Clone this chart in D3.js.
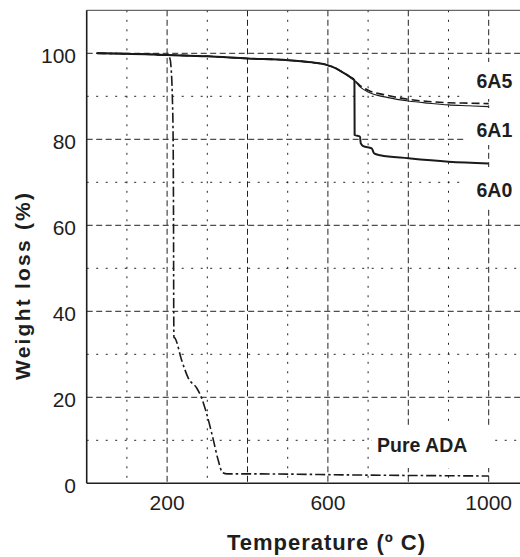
<!DOCTYPE html>
<html>
<head>
<meta charset="utf-8">
<script src="https://cdn.jsdelivr.net/npm/d3@7"></script>
<style>
  body { margin: 0; background: #fff; }
  text { font-family: "Liberation Sans", Arial, Helvetica, sans-serif; fill: #1e1e1e; }
</style>
</head>
<body>
<svg id="chart" width="520" height="557"></svg>
<script>
// the data
const temp6A5 = [25, 100, 200, 300, 400, 500, 560, 597, 620, 638, 655, 667, 680, 700, 750, 800, 850, 900, 950, 1000];
const wt6A5   = [100, 99.9, 99.6, 99.3, 98.8, 98.4, 97.9, 97.3, 96.5, 95.5, 94.5, 93.6, 92.5, 91.4, 90.2, 89.3, 88.8, 88.5, 88.4, 88.3];

const temp6A1 = [25, 100, 200, 300, 400, 500, 560, 597, 620, 638, 655, 667, 680, 700, 750, 800, 850, 900, 950, 1000];
const wt6A1   = [100, 99.9, 99.6, 99.3, 98.8, 98.4, 97.9, 97.3, 96.5, 95.5, 94.5, 93.6, 92.2, 91.0, 89.7, 88.9, 88.4, 88.0, 87.8, 87.6];

const temp6A0 = [25, 100, 200, 300, 400, 500, 560, 597, 620, 638, 655, 666, 666.5, 680, 681.6, 688, 709, 715, 730, 800, 900, 1000];
const wt6A0   = [100, 99.9, 99.6, 99.3, 98.8, 98.4, 97.9, 97.3, 96.5, 95.5, 94.5, 93.7, 81.0, 80.6, 79.1, 78.4, 77.9, 76.7, 76.3, 75.6, 74.8, 74.4];

const tempADA = [25, 100, 200, 207, 210, 213, 215, 216, 216.5, 217, 220, 236, 253, 274, 286, 298, 315, 327, 338, 350, 400, 700, 1000];
const wtADA   = [100, 99.9, 99.6, 98.8, 96.5, 90, 80, 60, 40, 34, 33.7, 28.7, 24.4, 22.1, 19.8, 16.3, 10.1, 5.4, 2.5, 2.2, 2.2, 1.9, 1.7];

const xTickLabels = [200, 600, 1000];
const yTickLabels = [0, 20, 40, 60, 80, 100];
const xMajor = [200, 400, 600, 800, 1000];
const xMinor = [100, 300, 500, 700, 900];
const yMajor = [20, 40, 60, 80, 100];
const yMinor = [10, 30, 50, 70, 90];

const seriesNames = ["6A5", "6A1", "6A0", "Pure ADA"];

// The svg
let svg = d3.select("#chart");

let x = d3.scaleLinear().domain([0, 1100]).range([86.7, 528.9]);
let y = d3.scaleLinear().domain([0, 110]).range([483.3, 10.3]);

const plotLeft = x(0), plotBottom = y(0), plotTop = y(110), plotRight = 520;

// grid lines
let grid = svg.append("g").attr("stroke", "#222").attr("stroke-width", 1).attr("fill", "none");

grid.selectAll(".vmaj").data(xMajor).enter().append("line")
    .attr("x1", d => x(d)).attr("x2", d => x(d))
    .attr("y1", plotTop).attr("y2", plotBottom)
    .attr("stroke-dasharray", "6,3.5");

grid.selectAll(".vmin").data(xMinor).enter().append("line")
    .attr("x1", d => x(d)).attr("x2", d => x(d))
    .attr("y1", plotTop).attr("y2", plotBottom)
    .attr("stroke-dasharray", "2,7.5");

grid.selectAll(".hmaj").data(yMajor).enter().append("line")
    .attr("x1", plotLeft).attr("x2", plotRight)
    .attr("y1", d => y(d)).attr("y2", d => y(d))
    .attr("stroke-dasharray", "6,3.5");

grid.selectAll(".hmin").data(yMinor).enter().append("line")
    .attr("x1", plotLeft).attr("x2", plotRight)
    .attr("y1", d => y(d)).attr("y2", d => y(d))
    .attr("stroke-dasharray", "2,7.5");

// white boxes behind the labels (hide the grid there)
const boxes = [[466, 62, 54, 37], [466, 108, 54, 37], [460, 167, 60, 42], [372, 425, 120, 43]];
svg.append("g").selectAll("rect").data(boxes).enter().append("rect")
    .attr("x", d => d[0]).attr("y", d => d[1])
    .attr("width", d => d[2]).attr("height", d => d[3])
    .attr("fill", "#fff");

// frame
svg.append("line").attr("x1", plotLeft).attr("x2", plotRight).attr("y1", plotTop).attr("y2", plotTop)
    .attr("stroke", "#444").attr("stroke-width", 1);
svg.append("line").attr("x1", plotLeft).attr("x2", plotLeft).attr("y1", plotTop).attr("y2", plotBottom)
    .attr("stroke", "#1e1e1e").attr("stroke-width", 1.6);
svg.append("line").attr("x1", plotLeft).attr("x2", plotRight).attr("y1", plotBottom).attr("y2", plotBottom)
    .attr("stroke", "#1e1e1e").attr("stroke-width", 1.6);

// tick labels
svg.append("g").selectAll("text").data(xTickLabels).enter().append("text")
    .attr("x", d => x(d)).attr("y", 510)
    .attr("text-anchor", "middle").attr("font-size", 21)
    .text(d => d);

svg.append("g").selectAll("text").data(yTickLabels).enter().append("text")
    .attr("x", 76).attr("y", d => y(d) + 9.5)
    .attr("text-anchor", "end").attr("font-size", 21)
    .text(d => d);

// axis titles
svg.append("text")
    .attr("transform", "translate(30,286.5) rotate(-90)")
    .attr("text-anchor", "middle").attr("font-size", 21).attr("font-weight", "bold")
    .attr("textLength", 187).attr("lengthAdjust", "spacing")
    .text("Weight loss (%)");

svg.append("text")
    .attr("x", 326).attr("y", 550)
    .attr("text-anchor", "middle").attr("font-size", 22).attr("font-weight", "bold")
    .attr("textLength", 198).attr("lengthAdjust", "spacing")
    .text("Temperature (\u00ba C)");

// curves
let line = d3.line().curve(d3.curveMonotoneX).x(d => x(d[0])).y(d => y(d[1]));
const zip = (a, b) => a.map((v, i) => [v, b[i]]);

const curves = [
    { pts: zip(temp6A1, wt6A1), w: 1.1, dash: null },
    { pts: zip(temp6A5, wt6A5), w: 1.6, dash: "8,4" },
    { pts: zip(temp6A0, wt6A0), w: 2.0, dash: null },
    { pts: zip(tempADA, wtADA), w: 1.6, dash: "10,3,2.5,3" }
];

svg.append("g").selectAll("path").data(curves).enter().append("path")
    .attr("d", d => line(d.pts))
    .attr("fill", "none")
    .attr("stroke", "#1a1a1a")
    .attr("stroke-width", d => d.w)
    .attr("stroke-dasharray", d => d.dash);

// series labels
const labelPos = [[476.5, 88.3], [476.5, 136.7], [476.5, 196.7], [377, 452]];
svg.append("g").selectAll("text").data(seriesNames).enter().append("text")
    .attr("x", (d, i) => labelPos[i][0]).attr("y", (d, i) => labelPos[i][1])
    .attr("font-size", 19.5).attr("font-weight", "bold")
    .text(d => d);
</script>
</body>
</html>
